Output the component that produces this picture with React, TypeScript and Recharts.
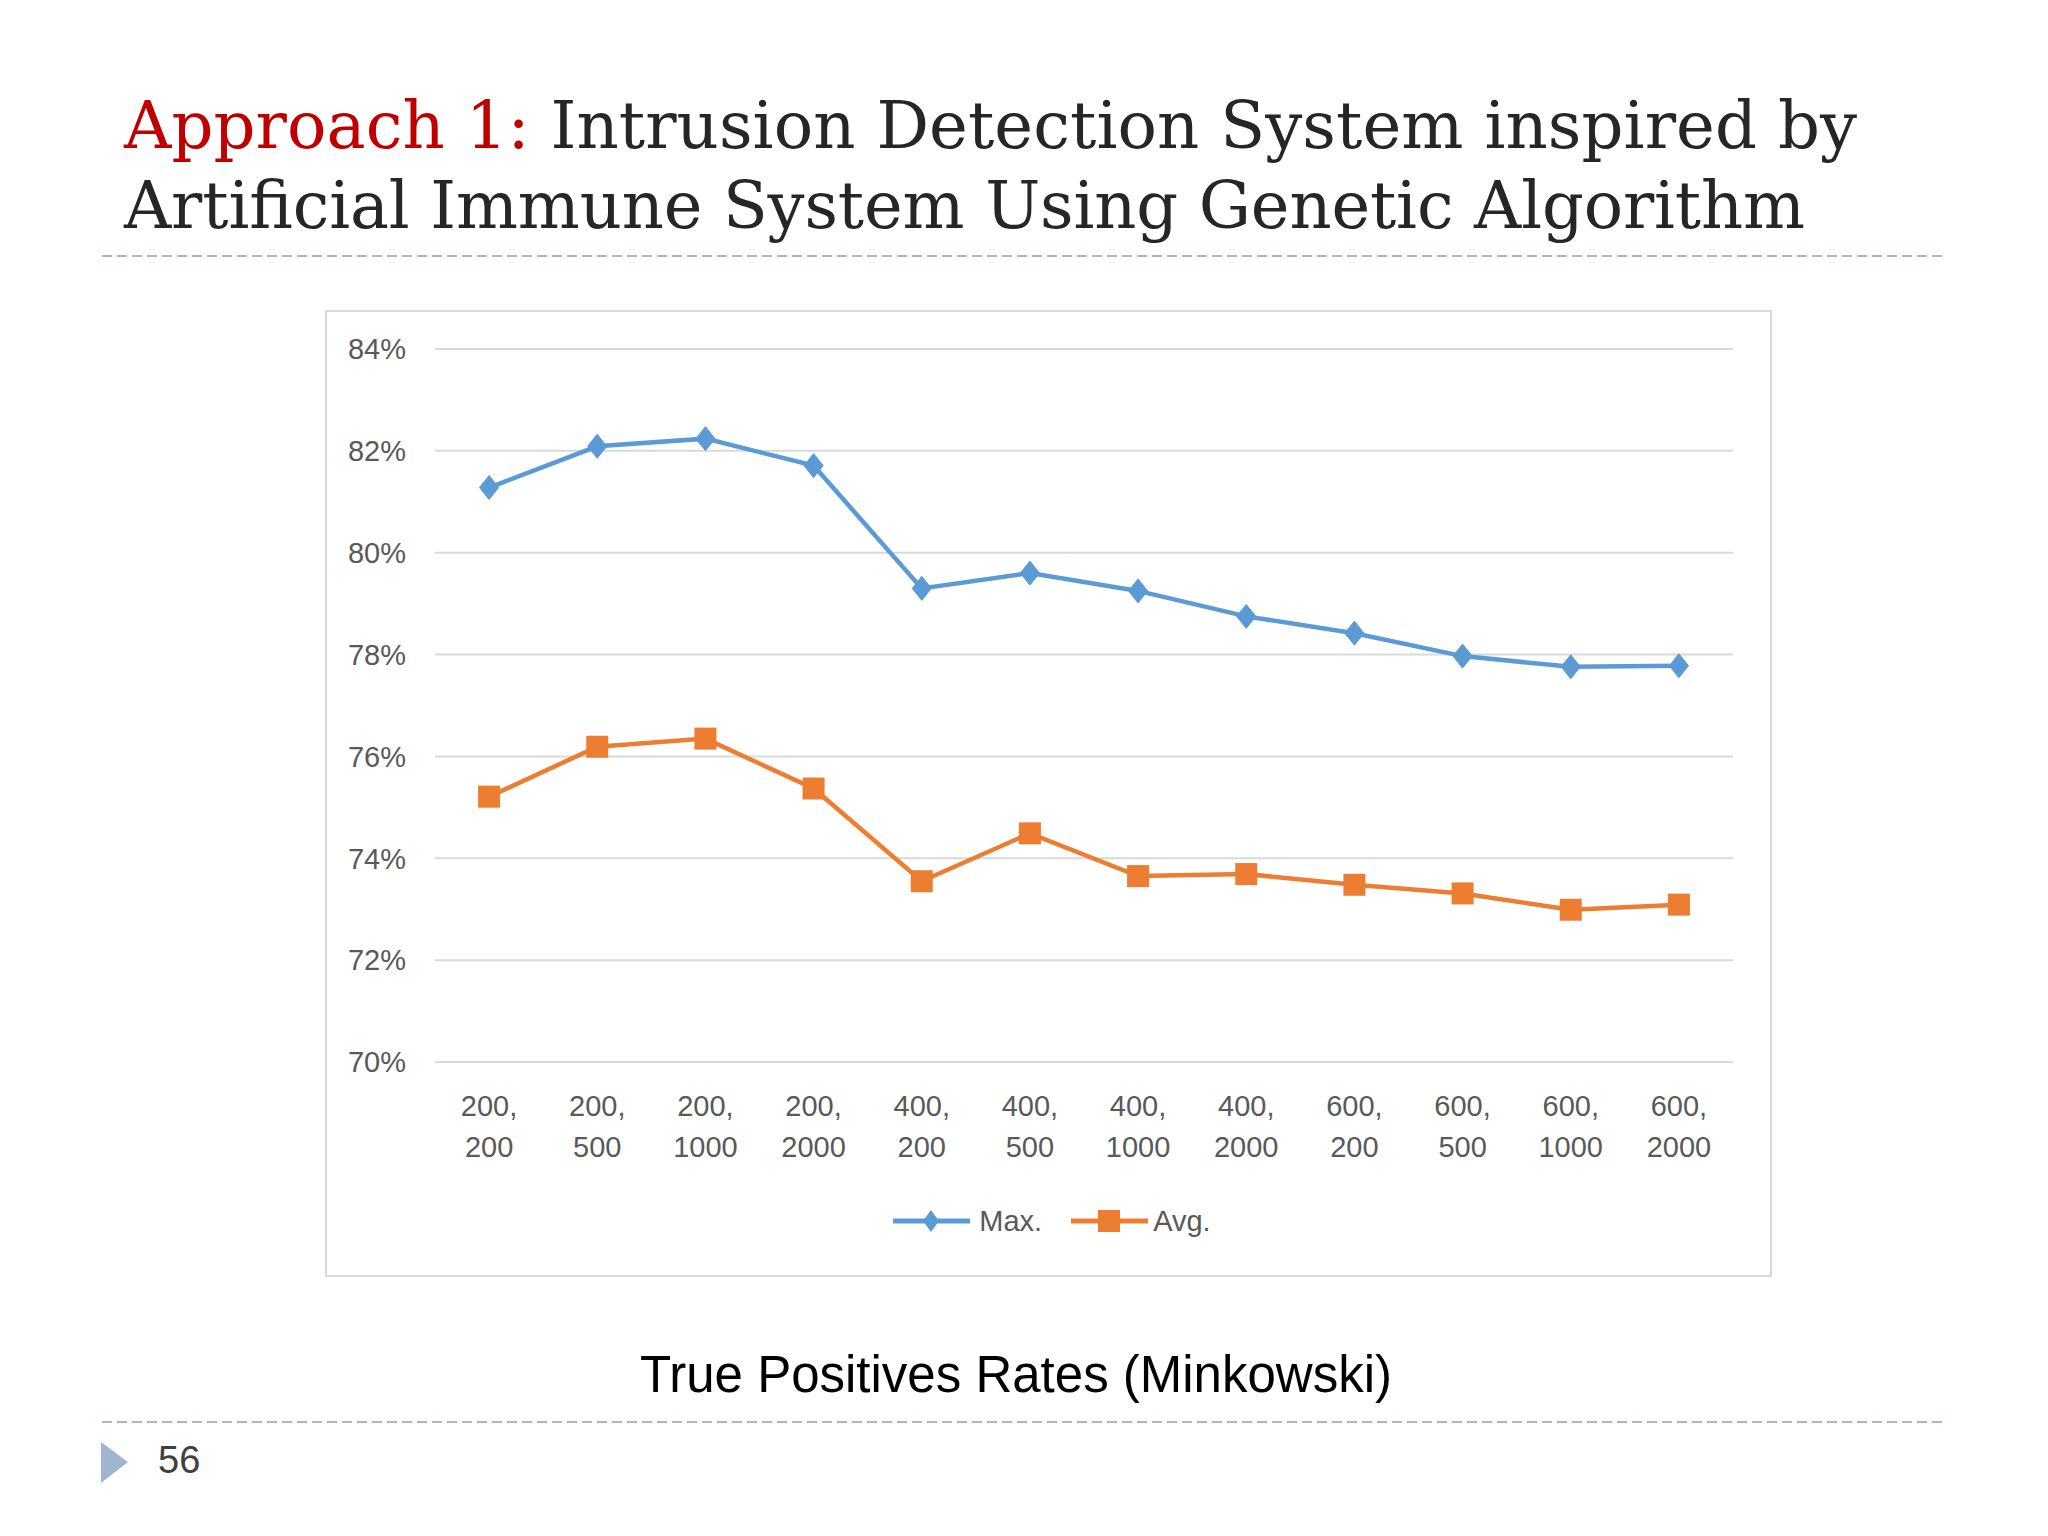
import React from "react";
import { LineChart, Line, XAxis, YAxis, CartesianGrid, Legend } from "recharts";

// True positive rates (Minkowski) for the AIS/GA intrusion detector,
// one point per "population, generations" setting.

const categories = [
  "200, 200", "200, 500", "200, 1000", "200, 2000",
  "400, 200", "400, 500", "400, 1000", "400, 2000",
  "600, 200", "600, 500", "600, 1000", "600, 2000",
];
const maxRates = [81.28, 82.09, 82.24, 81.71, 79.3, 79.6, 79.25, 78.75, 78.42, 77.97, 77.76, 77.78];
const avgRates = [75.21, 76.19, 76.35, 75.37, 73.55, 74.49, 73.65, 73.69, 73.48, 73.31, 72.99, 73.09];
const yTicks = [70, 72, 74, 76, 78, 80, 82, 84];

const data = categories.map((c, i) => ({ setting: c, max: maxRates[i], avg: avgRates[i] }));

const BLUE = "#5B9BD5";
const ORANGE = "#ED7D31";
const TEXT = "#595959";
const SANS = "'Liberation Sans', Arial, sans-serif";
const SERIF = "'DejaVu Serif', serif";

function XTick(props: any) {
  const { x, y, payload } = props;
  const [a, b] = String(payload.value).split(", ");
  return (
    <text x={x} textAnchor="middle" fill={TEXT} fontSize={29} fontFamily={SANS}>
      <tspan x={x} y={y + 54}>{a},</tspan>
      <tspan x={x} y={y + 95}>{b}</tspan>
    </text>
  );
}

function diamond(props: any) {
  const { cx, cy, index } = props;
  const r = 12;
  return (
    <path
      key={"d" + index}
      d={`M${cx},${cy - r}L${cx + r * 0.8},${cy}L${cx},${cy + r}L${cx - r * 0.8},${cy}Z`}
      fill={BLUE}
      stroke={BLUE}
      strokeWidth={1}
    />
  );
}

function square(props: any) {
  const { cx, cy, index } = props;
  return <rect key={"s" + index} x={cx - 11} y={cy - 11} width={22} height={22} fill={ORANGE} />;
}

function LegendBox() {
  return (
    <div style={{ height: 40, paddingLeft: 16, display: "flex", justifyContent: "center", alignItems: "center", fontFamily: SANS, fontSize: 29, color: TEXT }}>
      <svg width={77} height={40}>
        <line x1={0} y1={20} x2={77} y2={20} stroke={BLUE} strokeWidth={5} />
        <path d="M38,9L46,20L38,31L30,20Z" fill={BLUE} />
      </svg>
      <span style={{ marginLeft: 9 }}>Max.</span>
      <svg width={77} height={40} style={{ marginLeft: 29 }}>
        <line x1={0} y1={20} x2={77} y2={20} stroke={ORANGE} strokeWidth={5} />
        <rect x={27} y={9} width={22} height={22} fill={ORANGE} />
      </svg>
      <span style={{ marginLeft: 5 }}>Avg.</span>
    </div>
  );
}

export default function App() {
  return (
    <div style={{ position: "absolute", left: 0, top: 0, width: 2048, height: 1536, background: "#fff" }}>
      <svg width={2048} height={1536} style={{ position: "absolute", left: 0, top: 0 }}>
        <text x={124} y={148} fontFamily={SERIF} fontSize={65.6} textLength={1733} lengthAdjust="spacing">
          <tspan fill="#C00000">Approach 1:</tspan>
          <tspan fill="#262626"> Intrusion Detection System inspired by</tspan>
        </text>
        <text x={124} y={228} fontFamily={SERIF} fontSize={65.4} fill="#262626" textLength={1681} lengthAdjust="spacing">
          Artificial Immune System Using Genetic Algorithm
        </text>
        <line x1={102} y1={256} x2={1946} y2={256} stroke="#A9B8C8" strokeWidth={2} strokeDasharray="10 5" />
        <line x1={102} y1={1422} x2={1946} y2={1422} stroke="#A9B8C8" strokeWidth={2} strokeDasharray="10 5" />
        <text x={1016} y={1392} textAnchor="middle" fontFamily={SANS} fontSize={51} fill="#000">
          True Positives Rates (Minkowski)
        </text>
        <polygon points="101,1442 128,1462 101,1483" fill="#9EB6CE" />
        <text x={158} y={1473} fontFamily={SANS} fontSize={38} fill="#404040">56</text>
      </svg>

      <div style={{ position: "absolute", left: 325, top: 310, width: 1447, height: 967, border: "2px solid #D9D9D9", boxSizing: "border-box", background: "#fff" }} />
      <div style={{ position: "absolute", left: 325, top: 310 }}>
        <LineChart width={1447} height={967} data={data} margin={{ top: 39, right: 39, bottom: 36, left: 30 }}>
          <CartesianGrid horizontal vertical={false} stroke="#D9D9D9" strokeWidth={2} />
          <XAxis
            dataKey="setting"
            scale="band"
            axisLine={false}
            tickLine={false}
            tickSize={0}
            tickMargin={0}
            height={139}
            interval={0}
            tick={<XTick />}
          />
          <YAxis
            domain={[70, 84]}
            ticks={yTicks}
            axisLine={false}
            tickLine={false}
            tickSize={0}
            tickMargin={29}
            width={80}
            tickFormatter={(v) => `${v}%`}
            tick={{ fill: TEXT, fontSize: 29, fontFamily: SANS }}
          />
          <Legend verticalAlign="bottom" content={() => <LegendBox />} />
          <Line type="linear" dataKey="max" name="Max." stroke={BLUE} strokeWidth={4.5} dot={diamond} activeDot={false} isAnimationActive={false} />
          <Line type="linear" dataKey="avg" name="Avg." stroke={ORANGE} strokeWidth={4.5} dot={square} activeDot={false} isAnimationActive={false} />
        </LineChart>
      </div>
    </div>
  );
}
